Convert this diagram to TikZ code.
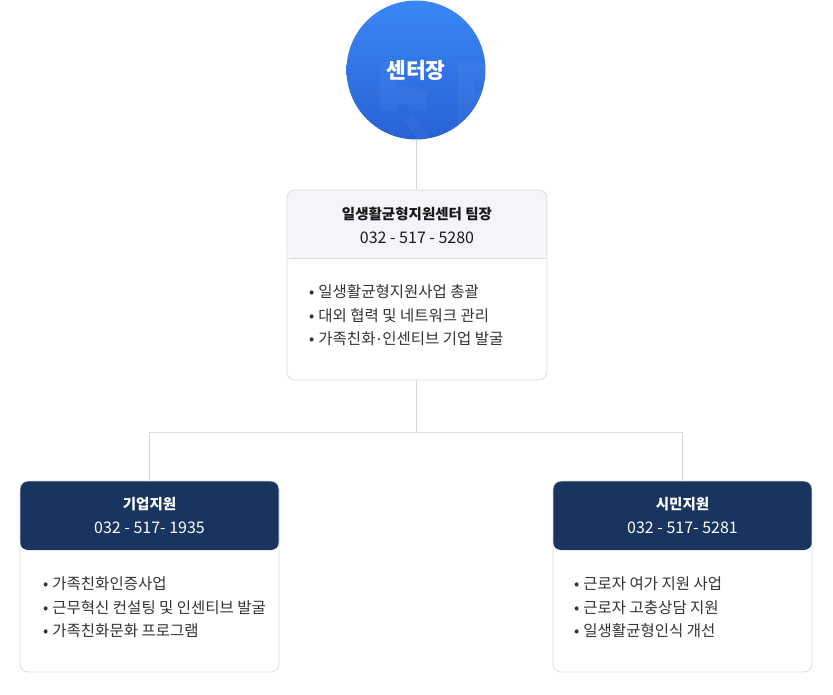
\documentclass[tikz,border=0pt]{standalone}
\usepackage{fontspec}
\setmainfont{Noto Sans CJK KR}
\usetikzlibrary{positioning}
\definecolor{chiefblue}{HTML}{3C88F7}
\definecolor{chiefdeep}{HTML}{2761D4}
\definecolor{navyhead}{HTML}{19355F}
\definecolor{palehead}{HTML}{F4F5F9}
\definecolor{cardline}{HTML}{DCDEE2}
\definecolor{wireline}{HTML}{D8DADE}
\definecolor{itemtext}{HTML}{333333}
\tikzset{
  card/.style={draw=cardline, fill=white, rounded corners=8pt, line width=0.8pt,
    inner sep=0pt, minimum width=259pt, minimum height=190pt},
  head/.style={path picture={\fill[#1] (path picture bounding box.north west)
    rectangle ([yshift=-69pt]path picture bounding box.north east);}},
  wire/.style={draw=wireline, line width=0.8pt},
  titletxt/.style={font=\fontsize{14.5}{17}\selectfont\bfseries},
  teltxt/.style={font=\fontsize{16}{18}\selectfont},
  itemtxt/.style={font=\fontsize{15.5}{18}\selectfont, text=itemtext,
    anchor=west, inner sep=0pt}
}
\newcommand{\middot}{\kern0.08em\raisebox{0.3em}{.}\kern0.08em}
\begin{document}
\begin{tikzpicture}[x=1pt, y=-1pt]
  \useasboundingbox (0,0) rectangle (833,695);
  % center head
  \node [circle, minimum size=139pt, inner sep=0pt] (chief) at (416,70) {};
  \begin{scope}
    \clip (chief.center) circle (69.5pt);
    \shade [top color=chiefblue, bottom color=chiefdeep] (340,-5) rectangle (492,145);
    \draw [white, opacity=0.035, line width=17pt] (388,62) -- (388,110)
      arc [start angle=180, end angle=360, radius=15] -- (418,92);
    \draw [white, opacity=0.035, line width=10pt] (408,118) -- (428,145);
    \fill [white, opacity=0.035] (458,62) rectangle (490,80)
      (458,80) rectangle (474,145) (474,92) rectangle (490,104);
  \end{scope}
  \node [font=\fontsize{21.5}{24}\selectfont\bfseries, text=white] (chieflbl)
    at (chief.center) {센터장};

  % team leader
  \node [card, head=palehead, minimum width=260pt] (lead) at (417,285) {};
  \draw [cardline, line width=0.8pt] ([yshift=-69pt]lead.north west)
    -- ([yshift=-69pt]lead.north east);
  \node [titletxt, text=black!90] (leadname) at (417,214) {일생활균형지원센터 팀장};
  \node [teltxt, text=black!90] (leadtel) at (417,238) {032 - 517 - 5280};
  \node [itemtxt] (leada) at (309,292) {•\hspace{4pt}일생활균형지원사업 총괄};
  \node [itemtxt] (leadb) at (309,316) {•\hspace{4pt}대외 협력 및 네트워크 관리};
  \node [itemtxt] (leadc) at (309,339) {•\hspace{4pt}가족친화\middot 인센티브 기업 발굴};

  % company support
  \node [card, head=navyhead, minimum height=191pt] (corp) at (149.5,576.5) {};
  \node [titletxt, text=white] (corpname) at (149.5,504) {기업지원};
  \node [teltxt, text=white] (corptel) at (149.5,528) {032 - 517- 1935};
  \node [itemtxt] (corpa) at (43,584) {•\hspace{4pt}가족친화인증사업};
  \node [itemtxt] (corpb) at (43,608) {•\hspace{4pt}근무혁신 컨설팅 및 인센티브 발굴};
  \node [itemtxt] (corpc) at (43,631) {•\hspace{4pt}가족친화문화 프로그램};

  % citizen support
  \node [card, head=navyhead, minimum height=191pt] (civ) at (682.5,576.5) {};
  \node [titletxt, text=white] (civname) at (682.5,504) {시민지원};
  \node [teltxt, text=white] (civtel) at (682.5,528) {032 - 517- 5281};
  \node [itemtxt] (civa) at (574,584) {•\hspace{4pt}근로자 여가 지원 사업};
  \node [itemtxt] (civb) at (574,608) {•\hspace{4pt}근로자 고충상담 지원};
  \node [itemtxt] (civc) at (574,631) {•\hspace{4pt}일생활균형인식 개선};

  % connectors
  \coordinate (split) at (416,432);
  \draw [wire] (chief.south) -- (chief.south |- lead.north);
  \draw [wire] (lead.south -| split) -- (split);
  \draw [wire] (split) -| (corp.north);
  \draw [wire] (split) -| (civ.north);
\end{tikzpicture}
\end{document}
